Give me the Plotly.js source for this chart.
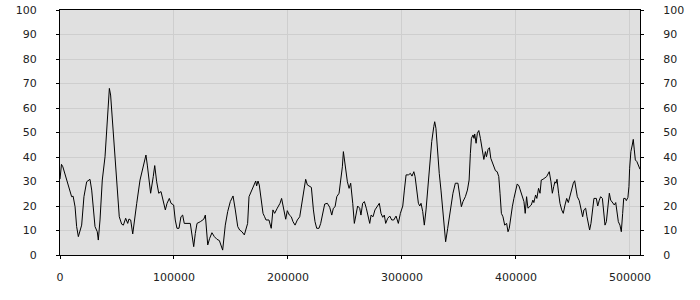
<!DOCTYPE html>
<html>
<head>
<meta charset="utf-8">
<script src="https://cdn.plot.ly/plotly-3.0.1.min.js"></script>
<style>html,body{margin:0;padding:0;background:#fff;}#chart{width:700px;height:300px;}</style>
</head>
<body>
<div id="chart"></div>
<script>
var xValues = [0,1300,2500,5800,7300,10200,11500,13200,14600,16100,19000,21000,23400,26300,27800,29200,30700,32700,33600,35100,37100,39500,41500,43300,44400,46200,48200,50300,52000,54100,55600,57600,59400,60500,62000,63800,64900,67300,70200,72500,75400,76600,78400,79500,81800,83100,84800,
86600,88600,90400,92400,93900,95900,97400,99700,101100,102600,104400,106100,107600,109000,114300,115800,117300,118700,120200,123100,126100,127500,128400,129600,131300,133300,135400,137700,139800,141200,142700,145000,147100,149400,151800,153800,155900,157600,159600,161700,163400,164600,165800,167600,169900,
171700,172500,173700,174800,176600,178100,179500,180700,183300,185300,186800,188300,190600,193000,194400,195900,198000,199400,201200,202900,204400,206200,208200,210300,212000,214000,215500,217000,218500,220500,222300,223700,225200,227200,228700,230700,232200,234500,236600,238400,239800,241300,242800,244800,246300,247700,248600,249800,251000,252100,253600,255000,
256800,258200,259600,261100,262900,264000,265500,267000,268700,270500,271700,272900,274600,276300,278700,280100,281600,283100,284500,285700,287500,289300,291000,292800,294800,296800,298600,300700,302100,303600,305600,307400,308800,310400,311500,313000,314400,315600,316700,318200,319600,321100,322600,324300,326100,327900,328700,329800,331300,332700,334200,335700,337100,338300,340100,
341900,343300,344700,346800,349100,350600,352100,353500,355600,357400,358900,360000,360900,362300,363200,363800,365000,366100,367400,368800,369700,370900,371800,373200,374100,375500,376700,377900,379400,380800,382000,383500,384900,386000,387200,388600,390100,391800,393000,394100,395300,396800,398200,399700,401100,402600,404100,405500,407000,408100,409300,410500,411900,413400,414800,415700,417200,418300,419800,421100,422200,423700,
426900,428300,429200,430700,431900,433100,434200,435100,436000,437400,438600,440100,441500,443000,444500,445900,447400,448900,450300,451500,452600,453800,455500,457000,458500,459600,461100,462300,463700,464600,465800,467300,468400,470500,471700,473100,474300,475800,477000,478100,479300,480500,481900,483100,484900,486300,487500,488600,489800,491200,492400,493600,494500,495900,496800,498200,499100,499700,500800,502000,502900,503800,504700,506100,507300,508800];

var yValues = [31,37,36,30.6,27.9,23.8,24,19.7,11.6,7.5,12.2,23.8,29.9,30.9,26.5,19.7,11.6,9.5,6.1,14.3,30.6,40.1,57.8,68,65.3,53.7,40.1,26.5,15.6,12.6,12.2,15,12.9,14.7,14.3,8.6,12,21.1,30.6,34.7,40.8,36.7,27.9,25.2,32,36.5,29.9,
25.2,25.9,22.4,18.4,21.1,23.1,21.1,20.4,14.3,10.9,10.9,15.6,16.3,12.9,12.9,7.5,3.4,8.8,12.9,13.6,14.6,16.3,10.2,4.1,6.8,9.1,7.5,6.4,5.9,4.1,2,12.2,17.7,21.8,24.1,18.4,11.6,10.2,9.5,8.2,10.9,12.9,23.8,25.9,28.2,
30.2,28.2,30.2,28.6,21.1,17,15.6,14.3,14.3,10.9,18.4,17,19.1,21.1,23.1,19.7,14.6,18.1,16.3,15.6,13.6,12.2,14.3,15.6,21.1,26.5,30.9,28.6,28.2,27.6,18.4,13.6,10.9,10.9,12.9,18.4,20.8,21.1,19.5,16.3,19.1,19.7,23.8,25.2,30.6,36,42.2,38.1,34,29.9,27.2,29.3,
21.1,12.9,16.3,20,19.1,16.3,21.1,21.8,19.1,15.6,12.9,16.3,15.6,18.4,20.4,21.1,17,15.4,16.3,12.9,15,15.9,14.3,14.3,15.9,12.9,17,20,26.5,32.7,32.7,33.3,32.2,34,32,25.2,21.1,20,21.1,17.7,12.2,18.4,27.9,38.8,46.3,52.4,54.4,51.7,41.5,33.3,26.5,17.7,8.8,5.4,10.9,
17,21.8,25.2,29.3,29.3,24.5,19.7,21.8,23.8,26.5,30.6,41.5,47.6,49,47.6,49.4,45.6,49.7,50.8,47.6,44.9,41.5,39,42.2,40.1,43.1,43.8,39.5,37.4,36.3,34.4,34,32,25.2,17,15.6,12.2,12.9,9.5,10.9,15.6,19.7,23.1,25.9,29,28.2,25.9,23.1,21.8,17,23.8,19.1,19.7,20.4,22.4,21.4,24.5,23.1,27.2,25.2,30.6,30.9,
32,33,34,29.9,25.2,27.9,29.9,29.3,30.9,25.2,21.1,18.4,17,20.4,23.1,21.4,24.5,26.5,29.3,30.3,27.2,23.8,22.2,19.1,15.6,18.4,19.1,15.6,12.9,10.2,12.9,19.7,23.1,23.1,20,22.4,23.8,23.1,17.7,12.2,13.6,18.4,25.2,22.4,21.4,20.4,21.4,17.7,13.6,12.2,9.5,17,23.1,23.1,22.2,23.5,27.9,35.4,42.2,44.9,47.2,42.9,38.8,38.1,36.7,35];

var xTicks = [0,100000,200000,300000,400000,500000];
var yTicks = [0,10,20,30,40,50,60,70,80,90,100];

var fontSpec = {family: 'DejaVu Sans, Verdana, sans-serif', size: 11, color: '#222'};

var trace = {
  x: xValues, y: yValues, type: 'scatter', mode: 'lines',
  line: {color: '#000', width: 1}, hoverinfo: 'skip', showlegend: false
};
var trace2 = {
  x: [xValues[0]], y: [yValues[0]], type: 'scatter', mode: 'lines', yaxis: 'y2',
  line: {color: 'rgba(0,0,0,0)', width: 0}, hoverinfo: 'skip', showlegend: false
};

var layout = {
  width: 700, height: 300,
  margin: {l: 60, r: 60, t: 10, b: 45, pad: 0},
  paper_bgcolor: '#ffffff', plot_bgcolor: '#e0e0e0',
  font: fontSpec,
  xaxis: {
    range: [0, 508800], tickmode: 'array', tickvals: xTicks, ticktext: xTicks.map(String),
    showgrid: true, gridcolor: '#cecece', gridwidth: 1, zeroline: false,
    showline: true, linecolor: '#000', linewidth: 1, mirror: true,
    ticks: 'outside', ticklen: 3, tickcolor: '#000', ticklabelstandoff: 9,
    tickfont: fontSpec
  },
  yaxis: {
    range: [0, 100], tickmode: 'array', tickvals: yTicks,
    showgrid: true, gridcolor: '#cecece', gridwidth: 1, zeroline: false,
    showline: true, linecolor: '#000', linewidth: 1,
    ticks: 'outside', ticklen: 3, tickcolor: '#000', ticklabelstandoff: 17,
    tickfont: fontSpec
  },
  yaxis2: {
    range: [0, 100], tickmode: 'array', tickvals: yTicks, overlaying: 'y', side: 'right',
    showgrid: false, zeroline: false,
    showline: true, linecolor: '#000', linewidth: 1,
    ticks: 'outside', ticklen: 3, tickcolor: '#000', ticklabelstandoff: 17,
    tickfont: fontSpec
  }
};

Plotly.newPlot('chart', [trace, trace2], layout, {staticPlot: true, displayModeBar: false});
</script>
</body>
</html>
